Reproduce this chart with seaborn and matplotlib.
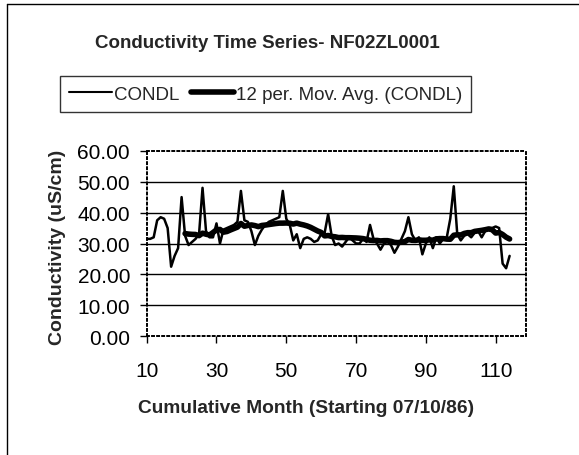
import numpy as np
import pandas as pd
import matplotlib
matplotlib.use("Agg")
import matplotlib.pyplot as plt
import seaborn as sns
from matplotlib.lines import Line2D

# ---- data ----
months = list(range(10, 115))
condl = [
    31.5, 31.5, 32.0, 37.5, 38.5, 38.0, 35.0, 22.5, 26.0, 28.5,   # 10-19
    45.0, 32.5, 29.5, 30.5, 31.5, 33.0, 48.0, 34.0, 32.0, 32.0,   # 20-29
    36.5, 30.0, 34.5, 35.0, 35.5, 36.0, 37.0, 47.0, 37.5, 37.0,   # 30-39
    34.0, 29.5, 32.5, 34.5, 36.0, 37.0, 37.5, 38.0, 38.5, 47.0,   # 40-49
    38.0, 36.0, 31.0, 33.0, 28.5, 31.5, 32.0, 31.5, 30.5, 31.0,   # 50-59
    33.0, 33.5, 39.5, 32.5, 29.5, 30.0, 29.0, 30.5, 32.0, 31.0,   # 60-69
    30.0, 30.0, 31.5, 30.5, 36.0, 31.5, 30.0, 28.0, 30.0, 30.5,   # 70-79
    29.5, 27.0, 29.0, 31.5, 34.0, 38.5, 33.0, 31.0, 32.0, 26.5,   # 80-89
    30.0, 32.0, 28.5, 32.0, 30.0, 31.5, 32.0, 38.0, 48.5, 33.0,   # 90-99
    31.0, 32.5, 33.0, 32.0, 33.5, 34.0, 32.0, 34.0, 35.0, 35.0,   # 100-109
    35.5, 35.0, 23.5, 22.0, 26.0,                                 # 110-114
]
x_ticks = [10, 30, 50, 70, 90, 110]
y_ticks = [0, 10, 20, 30, 40, 50, 60]
title = "Conductivity Time Series- NF02ZL0001"
xlabel = "Cumulative Month (Starting 07/10/86)"
ylabel = "Conductivity (uS/cm)"
series_name = "CONDL"
avg_name = "12 per. Mov. Avg. (CONDL)"
window = 12

df = pd.DataFrame({"month": months, "value": condl})
df["avg"] = df["value"].rolling(window).mean()

sns.set_style("white")
plt.rcParams["font.family"] = ["Liberation Sans", "DejaVu Sans"]

fig = plt.figure(figsize=(5.79, 4.56), dpi=100)
W, H = 579, 456
L, R, T, B = 146.7, 526.0, 151.7, 337.3
ax = fig.add_axes([L / W, 1 - B / H, (R - L) / W, (B - T) / H])

sns.lineplot(data=df, x="month", y="value", ax=ax, color="black", lw=1.8,
             label=series_name, legend=False, zorder=3)
sns.lineplot(data=df.dropna(), x="month", y="avg", ax=ax, color="black", lw=4.0,
             label=avg_name, legend=False, solid_capstyle="round", zorder=4)

ax.set_xlim(10, 118.7)
ax.set_ylim(0, 60)
ax.set_xticks(x_ticks)
ax.set_yticks(y_ticks)
ax.set_yticklabels([f"{v:.2f}" for v in y_ticks])
ax.tick_params(axis="both", direction="out", length=5, width=1, color="black",
               labelsize=15, labelcolor="black")
ax.tick_params(axis="y", pad=7)
ax.tick_params(axis="x", pad=13)
ax.tick_params(left=True, bottom=True)

for v in y_ticks[1:-1]:
    ax.axhline(v, color="black", lw=1.0, zorder=0)
for s in ax.spines.values():
    s.set_linestyle((0, (1, 1.6)))
    s.set_linewidth(1.4)
    s.set_color("black")

ax.set_xlabel(xlabel, fontsize=13.8, fontweight="bold")
ax.set_ylabel(ylabel, fontsize=14, fontweight="bold")
ax.xaxis.label.set_va("center")
ax.yaxis.label.set_va("center")
ax.xaxis.set_label_coords((305.7 - L) / (R - L), -(409 - B) / (B - T))
ax.yaxis.set_label_coords(-(L - 57) / (R - L), (B - 247) / (B - T))

fig.text(267.5 / W, 1 - 43 / H, title, ha="center", va="center",
         fontsize=13.5, fontweight="bold")

handles = [Line2D([], [], color="black", lw=1.5), Line2D([], [], color="black", lw=4.0)]
leg = fig.legend(handles, [series_name, avg_name], loc="center",
                 bbox_to_anchor=(265.5 / W, 1 - 95 / H), ncol=2, frameon=True,
                 fontsize=13.5, handlelength=2.3, handletextpad=0.1,
                 columnspacing=0.6, borderpad=0.5, fancybox=False,
                 borderaxespad=0)
leg.get_frame().set_edgecolor("black")
leg.get_frame().set_linewidth(1.0)

# outer chart border (left and top visible in the reference)
fig.add_artist(Line2D([7 / W, 7 / W], [0, 1 - 5 / H], color="black", lw=1.0))
fig.add_artist(Line2D([7 / W, 1], [1 - 5 / H, 1 - 5 / H], color="black", lw=1.0))

fig.savefig("out.png", dpi=100)
